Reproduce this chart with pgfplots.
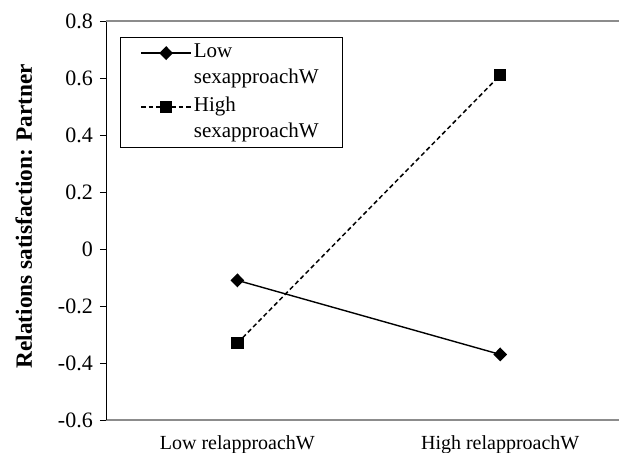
\documentclass[border=0pt]{standalone}
\usepackage{fontspec}
\setmainfont{Liberation Serif}
\usepackage{pgfplots}
\pgfplotsset{compat=1.18}
\begin{document}
\fontsize{21}{26}\selectfont
\begin{tikzpicture}
\begin{axis}[
  scale only axis, width=513pt, height=399pt,
  xmin=-0.5, xmax=1.452, ymin=-0.6, ymax=0.8,
  axis lines=left, axis line style={-},
  x axis line style={draw=black!45, line width=1.2pt},
  y axis line style={draw=black, line width=0.9pt},
  xtick={0,1}, xticklabels={Low relapproachW, High relapproachW},
  xtick style={draw=none},
  ytick={-0.6,-0.4,-0.2,0,0.2,0.4,0.6,0.8},
  yticklabels={{-0.6},{-0.4},{-0.2},{0},{0.2},{0.4},{0.6},{0.8}},
  tick align=outside, major tick length=6pt,
  ytick style={draw=black, line width=0.9pt},
  yticklabel style={font=\fontsize{22}{26}\selectfont},
  xticklabel style={font=\fontsize{20}{24}\selectfont, yshift=-2pt},
  ylabel={Relations satisfaction: Partner},
  every axis y label/.style={at={(axis description cs:-0.16,0.511)}, rotate=90, anchor=center, font=\bfseries\fontsize{23.3}{26}\selectfont},
  legend cell align=left,
  legend style={at={(rel axis cs:0.0273,0.96)}, anchor=north west, draw=black, line width=0.8pt,
    inner xsep=18pt, inner ysep=4.5pt, row sep=6pt, column sep=0pt,
    cells={anchor=base west},
    nodes={inner sep=2pt, font=\fontsize{21}{26}\selectfont}},
  legend image code/.code={\path (0pt,0pt); \draw[mark repeat=2, mark phase=2, #1] plot coordinates {(2pt,30.5pt) (27pt,30.5pt) (52pt,30.5pt)};},
]
\addplot[black, line width=1.4pt, mark=diamond*, mark size=6pt, mark options={solid, xscale=1.3}]
  coordinates {(0,-0.11) (1,-0.37)};
\addlegendentry{\parbox[b]{128pt}{Low\\sexapproachW}}
\addplot[black, line width=1.5pt, dash pattern=on 4.5pt off 3pt, mark=square*, mark size=5.5pt, mark options={solid}]
  coordinates {(0,-0.33) (1,0.61)};
\addlegendentry{\parbox[b]{128pt}{High\\sexapproachW}}
\draw[black!45, line width=1.2pt] (rel axis cs:0,1) -- (rel axis cs:1,1);
\coordinate (sw) at (rel axis cs:0,0);
\coordinate (ne) at (rel axis cs:1,1);
\end{axis}
\pgfresetboundingbox
\path[use as bounding box] ([xshift=-106pt,yshift=-32pt]sw) rectangle ([yshift=21pt]ne);
\end{tikzpicture}
\end{document}
